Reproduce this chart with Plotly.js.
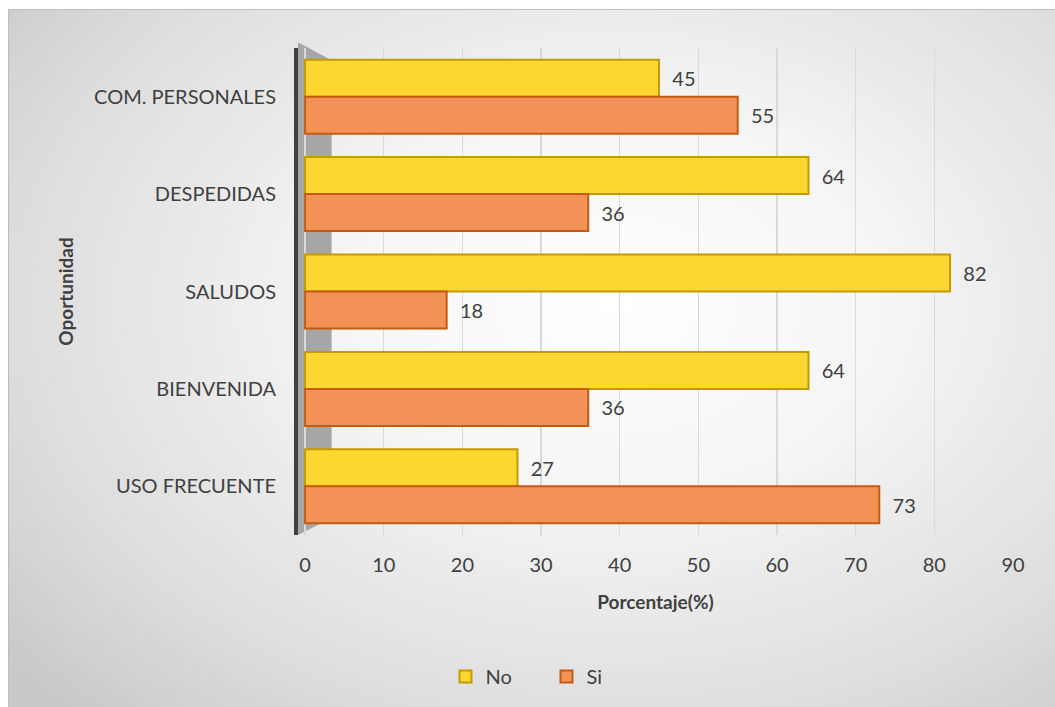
<!DOCTYPE html>
<html>
<head>
<meta charset="utf-8">
<script src="https://cdn.plot.ly/plotly-3.0.1.min.js"></script>
<style>
  html, body { margin: 0; padding: 0; background: #ffffff; }
  #wrap { position: relative; width: 1055px; height: 707px; }
  #bg { position: absolute; left: 8px; top: 9px; width: 1047px; height: 698px;
        background: radial-gradient(ellipse 75% 80% at 58% 42%, #ffffff 0%, #f5f5f5 35%, #dcdcdc 78%, #c9c9c9 100%);
        border-top: 1px solid #bdbdbd; border-left: 1px solid #bdbdbd; }
  #chart { position: absolute; left: 0; top: 0; width: 1055px; height: 707px; }
</style>
</head>
<body>
<div id="wrap"><div id="bg"></div><div id="chart"></div></div>
<script>
const categories = ["COM. PERSONALES", "DESPEDIDAS", "SALUDOS", "BIENVENIDA", "USO FRECUENTE"];
const noValues = [45, 64, 82, 64, 27];
const siValues = [55, 36, 18, 36, 73];
const xTicks = [0, 10, 20, 30, 40, 50, 60, 70, 80, 90];

const FAMILY = "Lato, 'Open Sans', sans-serif";
const textFont = { family: FAMILY, size: 20, color: "#404040" };

const traces = [
  {
    type: "bar", orientation: "h", name: "No",
    y: categories, x: noValues,
    text: noValues, texttemplate: "  %{x}", textposition: "outside", cliponaxis: false,
    textfont: textFont,
    marker: { color: "#FCD732", line: { color: "#C49A00", width: 2 } }
  },
  {
    type: "bar", orientation: "h", name: "Si",
    y: categories, x: siValues,
    text: siValues, texttemplate: "  %{x}", textposition: "outside", cliponaxis: false,
    textfont: textFont,
    marker: { color: "#F39257", line: { color: "#C55A11", width: 2 } }
  }
];

const layout = {
  width: 1055, height: 707,
  paper_bgcolor: "rgba(0,0,0,0)", plot_bgcolor: "rgba(0,0,0,0)",
  margin: { l: 298, r: 42, t: 48, b: 172 },
  barmode: "group", bargap: 0.24, bargroupgap: 0,
  font: textFont,
  showlegend: true,
  legend: { orientation: "h", x: 0.518, xanchor: "center", xref: "container", y: 0.043, yanchor: "middle", yref: "container",
            font: textFont, bgcolor: "rgba(0,0,0,0)", itemwidth: 30, entrywidth: 56, entrywidthmode: "pixels" },
  xaxis: {
    range: [-0.9, 90], tickvals: xTicks, ticktext: xTicks.map(String),
    showgrid: true, gridcolor: "#d9d9d9", gridwidth: 1.5, zeroline: false,
    showline: false, ticks: "", tickfont: textFont, ticklabelstandoff: 16,
    title: { text: "<b>Porcentaje(%)</b>", font: { family: FAMILY, size: 19, color: "#404040" }, standoff: 20 }
  },
  yaxis: {
    type: "category", categoryorder: "array", categoryarray: categories, autorange: "reversed",
    showline: true, linecolor: "#404040", linewidth: 4, ticks: "", showgrid: false,
    tickfont: textFont, ticklabelstandoff: 14,
    title: { text: "<b>Oportunidad</b>", font: { family: FAMILY, size: 19, color: "#404040" }, standoff: 16 }
  },
  shapes: [
    { type: "path", xref: "paper", yref: "paper", layer: "below",
      path: "M 0 1.012 L 0.047 0.975 L 0.047 0.035 L 0 0 Z",
      fillcolor: "#a6a6a6", line: { width: 0 } }
  ]
};

Plotly.newPlot("chart", traces, layout, { displayModeBar: false, staticPlot: true });
</script>
</body>
</html>
